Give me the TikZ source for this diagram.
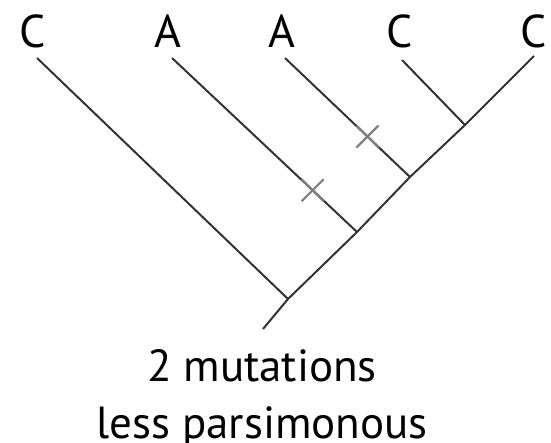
\documentclass[tikz,border=0pt]{standalone}
\usepackage{fontspec}
\setmainfont{PT Sans}
\usepackage{tikz}
\usetikzlibrary{positioning, calc}

\begin{document}
\begin{tikzpicture}[x=1pt, y=-1pt,
    branch/.style={line width=2pt, black!80},
    mutation/.style={line width=2.2pt, black!50},
    leaf/.style={font=\fontsize{46}{50}\selectfont, inner sep=0pt}]
    \useasboundingbox (0,0) rectangle (551,443);

    % Leaf labels
    \node[leaf] (c1) at (33,31) {C};
    \node[leaf] (a1) at (168,31) {A};
    \node[leaf] (a2) at (282,31) {A};
    \node[leaf] (c2) at (400,31) {C};
    \node[leaf] (c3) at (534,31) {C};

    % Branch tips and junctions
    \coordinate (t1) at (37,58);
    \coordinate (t2) at (172,58);
    \coordinate (t3) at (285,58);
    \coordinate (t4) at (402,60);
    \coordinate (t5) at (534,56);
    \coordinate (root) at (263,329);
    \coordinate (j1) at (288,299);
    \coordinate (j2) at (357,232);
    \coordinate (j3) at (410,177);
    \coordinate (j4) at (465,125);

    % Draw tree
    \draw[branch] (root) -- (j1) -- (j2) -- (j3) -- (j4) -- (t5);
    \draw[branch] (t1) -- (j1);
    \draw[branch] (t2) -- (j2);
    \draw[branch] (t3) -- (j3);
    \draw[branch] (t4) -- (j4);

    % Mark mutations
    \coordinate (m1) at ($(t2)!0.76!(j2)$);
    \coordinate (m2) at ($(t3)!0.66!(j3)$);
    \foreach \m in {m1, m2} {
        \draw[mutation] ($(\m)+(-11,11)$) -- ($(\m)+(11,-11)$);
        \draw[mutation] ($(\m)+(-11,-11)$) -- ($(\m)+(11,11)$);
    }

    % Caption
    \node[font=\fontsize{45}{57}\selectfont, align=center, inner sep=0pt]
        (caption) at (262,398) {2 mutations\\less parsimonous};
\end{tikzpicture}
\end{document}
